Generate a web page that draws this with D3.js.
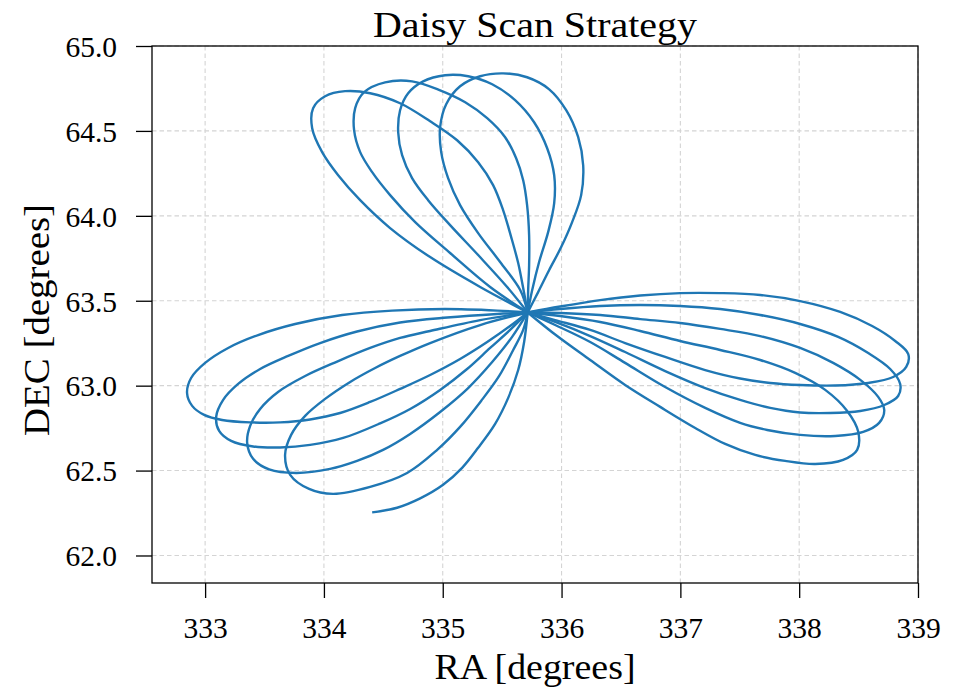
<!DOCTYPE html>
<html><head><meta charset="utf-8">
<script src="https://cdn.jsdelivr.net/npm/d3@7"></script>
<style>body{margin:0;background:#fff}</style>
</head><body>
<svg id="chart" width="957" height="691"></svg>
<script>
const title = "Daisy Scan Strategy";
const xLabel = "RA [degrees]";
const yLabel = "DEC [degrees]";
const xTicks = [333, 334, 335, 336, 337, 338, 339];
const yTicks = [62.0, 62.5, 63.0, 63.5, 64.0, 64.5, 65.0];

// scan track: start tail, then petals (each leaves and returns to the centre 335.715, 63.431)
const tail = [[334.406,62.254],[334.616,62.281],[334.810,62.336],[335.003,62.416],[335.163,62.516],[335.298,62.634],[335.441,62.775],[335.551,62.928],[335.635,63.092],[335.685,63.257],[335.715,63.431]];
const petalL1 = [[335.715,63.431],[335.458,63.442],[335.020,63.451],[334.574,63.442],[334.153,63.416],[333.758,63.363],[333.446,63.298],[333.194,63.222],[333.000,63.134],[332.882,63.045],[332.848,62.957],[332.891,62.881],[332.992,62.828],[333.143,62.798],[333.379,62.784],[333.631,62.784],[333.884,62.801],[334.136,62.839],[334.389,62.904],[334.641,62.981],[334.894,63.063],[335.146,63.157],[335.374,63.257],[335.567,63.351],[335.715,63.431]];
const petalL2 = [[335.715,63.431],[335.458,63.422],[335.037,63.401],[334.641,63.372],[334.279,63.319],[333.968,63.251],[333.699,63.175],[333.463,63.098],[333.278,63.010],[333.152,62.916],[333.093,62.816],[333.118,62.734],[333.219,62.675],[333.404,62.642],[333.631,62.636],[333.884,62.651],[334.162,62.692],[334.473,62.778],[334.726,62.863],[334.978,62.975],[335.205,63.098],[335.399,63.222],[335.567,63.328],[335.715,63.431]];
const petalL3 = [[335.715,63.431],[335.315,63.386],[334.894,63.322],[334.641,63.281],[334.389,63.222],[334.111,63.142],[333.842,63.057],[333.614,62.963],[333.463,62.863],[333.379,62.763],[333.354,62.663],[333.404,62.569],[333.539,62.507],[333.766,62.486],[334.052,62.510],[334.279,62.557],[334.498,62.622],[334.726,62.716],[334.978,62.845],[335.214,62.986],[335.416,63.139],[335.584,63.287],[335.715,63.431]];
const petalL4 = [[335.715,63.431],[335.315,63.357],[334.894,63.251],[334.641,63.175],[334.431,63.104],[334.221,63.022],[334.010,62.922],[333.842,62.822],[333.724,62.710],[333.673,62.592],[333.716,62.475],[333.875,62.392],[334.077,62.363],[334.389,62.404],[334.700,62.486],[334.953,62.622],[335.146,62.757],[335.323,62.910],[335.475,63.057],[335.593,63.210],[335.677,63.328],[335.715,63.431]];
const petalUA = [[335.715,63.431],[335.315,63.581],[334.894,63.757],[334.557,63.928],[334.305,64.092],[334.120,64.239],[333.985,64.375],[333.901,64.516],[333.909,64.634],[334.010,64.704],[334.178,64.734],[334.389,64.722],[334.641,64.663],[334.894,64.557],[335.121,64.445],[335.298,64.316],[335.424,64.181],[335.508,64.034],[335.576,63.875],[335.635,63.722],[335.677,63.575],[335.715,63.431]];
const petalUB = [[335.715,63.431],[335.399,63.581],[335.062,63.781],[334.768,63.963],[334.557,64.122],[334.406,64.257],[334.305,64.375],[334.254,64.504],[334.263,64.634],[334.338,64.728],[334.515,64.786],[334.742,64.792],[334.978,64.739],[335.189,64.669],[335.374,64.575],[335.525,64.463],[335.618,64.339],[335.677,64.210],[335.710,64.063],[335.727,63.886],[335.727,63.710],[335.719,63.563],[335.715,63.431]];
const petalUC = [[335.715,63.431],[335.542,63.581],[335.298,63.769],[335.062,63.945],[334.877,64.092],[334.742,64.222],[334.658,64.357],[334.625,64.492],[334.641,64.622],[334.709,64.722],[334.835,64.792],[335.020,64.828],[335.214,64.822],[335.416,64.775],[335.609,64.681],[335.769,64.551],[335.879,64.398],[335.938,64.239],[335.938,64.075],[335.887,63.904],[335.811,63.728],[335.753,63.563],[335.715,63.431]];
const petalUD = [[335.715,63.431],[335.652,63.563],[335.483,63.728],[335.298,63.898],[335.146,64.063],[335.045,64.222],[334.987,64.375],[334.978,64.522],[335.029,64.657],[335.146,64.763],[335.315,64.822],[335.508,64.839],[335.710,64.816],[335.896,64.745],[336.039,64.622],[336.140,64.463],[336.182,64.298],[336.165,64.122],[336.089,63.963],[335.997,63.816],[335.896,63.681],[335.803,63.551],[335.715,63.431]];
const petalR1 = [[335.715,63.431],[335.988,63.466],[336.325,63.504],[336.662,63.531],[336.998,63.545],[337.335,63.545],[337.672,63.534],[338.008,63.498],[338.345,63.434],[338.614,63.351],[338.808,63.263],[338.918,63.186],[338.901,63.110],[338.791,63.051],[338.581,63.016],[338.303,63.001],[338.008,63.004],[337.756,63.016],[337.503,63.042],[337.209,63.092],[336.872,63.169],[336.535,63.251],[336.241,63.328],[335.946,63.386],[335.715,63.431]];
const petalR2 = [[335.715,63.431],[335.988,63.451],[336.325,63.469],[336.662,63.475],[336.998,63.469],[337.335,63.451],[337.672,63.416],[338.008,63.363],[338.328,63.287],[338.581,63.192],[338.766,63.098],[338.850,63.010],[338.833,62.939],[338.716,62.886],[338.514,62.851],[338.261,62.839],[338.008,62.842],[337.756,62.869],[337.503,62.916],[337.209,62.986],[336.872,63.086],[336.535,63.198],[336.241,63.292],[335.946,63.375],[335.715,63.431]];
const petalR3 = [[335.715,63.431],[335.988,63.428],[336.325,63.416],[336.662,63.392],[336.998,63.369],[337.335,63.334],[337.672,63.292],[338.008,63.222],[338.286,63.134],[338.514,63.034],[338.665,62.934],[338.716,62.857],[338.673,62.781],[338.539,62.728],[338.303,62.704],[338.008,62.710],[337.731,62.739],[337.503,62.781],[337.209,62.869],[336.872,62.992],[336.535,63.134],[336.241,63.257],[335.946,63.357],[335.715,63.431]];
const petalR4 = [[335.715,63.431],[335.988,63.410],[336.325,63.375],[336.662,63.322],[336.998,63.263],[337.335,63.210],[337.672,63.151],[337.966,63.075],[338.219,62.975],[338.404,62.851],[338.497,62.728],[338.488,62.622],[338.370,62.563],[338.135,62.539],[337.882,62.557],[337.630,62.592],[337.377,62.657],[337.125,62.751],[336.830,62.875],[336.535,63.004],[336.241,63.151],[335.963,63.292],[335.715,63.431]];

const track = [tail, petalR4, petalUD, petalL4, petalR3, petalUC, petalL3, petalR2, petalUB, petalL2, petalR1, petalUA, petalL1];

const L = 152, R = 918, T = 46, B = 583;
const FONT = "'Liberation Serif','Times New Roman',serif";
const svg = d3.select("#chart");

const x = d3.scaleLinear().domain([332.553, 339]).range([L, R]);
const y = d3.scaleLinear().domain([61.838, 65.0]).range([B, T]);

// grid
const grid = svg.append("g");
grid.selectAll(".gx").data(xTicks).join("line")
  .attr("x1", d => x(d)).attr("x2", d => x(d)).attr("y1", T).attr("y2", B)
  .attr("stroke", "#d4d4d4").attr("stroke-width", 1.1).attr("stroke-dasharray", "4.5,3");
grid.selectAll(".gy").data(yTicks).join("line")
  .attr("y1", d => y(d)).attr("y2", d => y(d)).attr("x1", L).attr("x2", R)
  .attr("stroke", "#d4d4d4").attr("stroke-width", 1.1).attr("stroke-dasharray", "4.5,3");

// track
const line = d3.line().x(d => x(d[0])).y(d => y(d[1])).curve(d3.curveCatmullRom.alpha(0.5));
svg.append("g").selectAll("path").data(track).join("path")
  .attr("d", line).attr("fill", "none").attr("stroke", "#1f77b4")
  .attr("stroke-width", 2.4).attr("stroke-linejoin", "round").attr("stroke-linecap", "butt");

// axes
const xAxis = svg.append("g").attr("transform", `translate(0,${B})`)
  .call(d3.axisBottom(x).tickValues(xTicks).tickFormat(d3.format("d")).tickSize(15).tickSizeOuter(0).tickPadding(19));
const yAxis = svg.append("g").attr("transform", `translate(${L},0)`)
  .call(d3.axisLeft(y).tickValues(yTicks).tickFormat(d3.format(".1f")).tickSize(16).tickSizeOuter(0).tickPadding(19));
[xAxis, yAxis].forEach(g => {
  g.select(".domain").remove();
  g.selectAll(".tick line").attr("stroke", "#000").attr("stroke-width", 1.3);
  g.selectAll(".tick text").attr("fill", "#000").style("font-family", FONT).style("font-size", "29.5px");
});
yAxis.selectAll(".tick text").attr("dy", "0.35em");

// frame
svg.append("rect").attr("x", L).attr("y", T).attr("width", R - L).attr("height", B - T)
  .attr("fill", "none").attr("stroke", "#000").attr("stroke-width", 1.3);

// labels
svg.append("text").attr("x", (L + R) / 2).attr("y", 37).attr("text-anchor", "middle")
  .style("font-family", FONT).style("font-size", "36px").text(title)
  .attr("textLength", 324).attr("lengthAdjust", "spacingAndGlyphs");
svg.append("text").attr("x", (L + R) / 2).attr("y", 679).attr("text-anchor", "middle")
  .style("font-family", FONT).style("font-size", "36px").text(xLabel)
  .attr("textLength", 201).attr("lengthAdjust", "spacingAndGlyphs");
svg.append("text").attr("transform", `translate(49,320) rotate(-90)`).attr("text-anchor", "middle")
  .style("font-family", FONT).style("font-size", "36px").text(yLabel)
  .attr("textLength", 232).attr("lengthAdjust", "spacingAndGlyphs");
</script>
</body></html>
